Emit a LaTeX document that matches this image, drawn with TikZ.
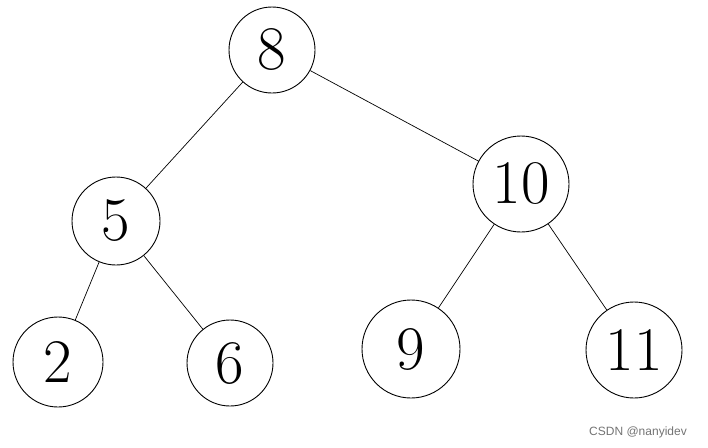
\documentclass[tikz,border=0pt]{standalone}
\usepackage{fontspec}
\newfontfamily\wmfont{Liberation Sans}
\begin{document}
\begin{tikzpicture}[x=1pt,y=-1pt,
  tnode/.style={draw, circle, line width=0.9pt, inner sep=0pt, font=\fontsize{62}{62}\selectfont},
  edge/.style={line width=0.7pt}]
\useasboundingbox (0,0) rectangle (708,447);
\node[tnode, minimum size=86pt] (n8) at (272,50) {8};
\node[tnode, minimum size=96pt] (n10) at (521,184) {10};
\node[tnode, minimum size=88pt] (n5) at (116,221) {5};
\node[tnode, minimum size=90pt] (n2) at (58,362) {2};
\node[tnode, minimum size=86pt] (n6) at (230,363) {6};
\node[tnode, minimum size=98pt] (n9) at (411,349) {9};
\node[tnode, minimum size=96pt] (n11) at (634,350) {11};
\draw[edge] (n8) -- (n5);
\draw[edge] (n8) -- (n10);
\draw[edge] (n5) -- (n2);
\draw[edge] (n5) -- (n6);
\draw[edge] (n10) -- (n9);
\draw[edge] (n10) -- (n11);
\node[font=\wmfont\fontsize{12}{12}\selectfont, text=black!55, inner sep=0pt] (wm) at (638,432) {CSDN @nanyidev};
\end{tikzpicture}
\end{document}
